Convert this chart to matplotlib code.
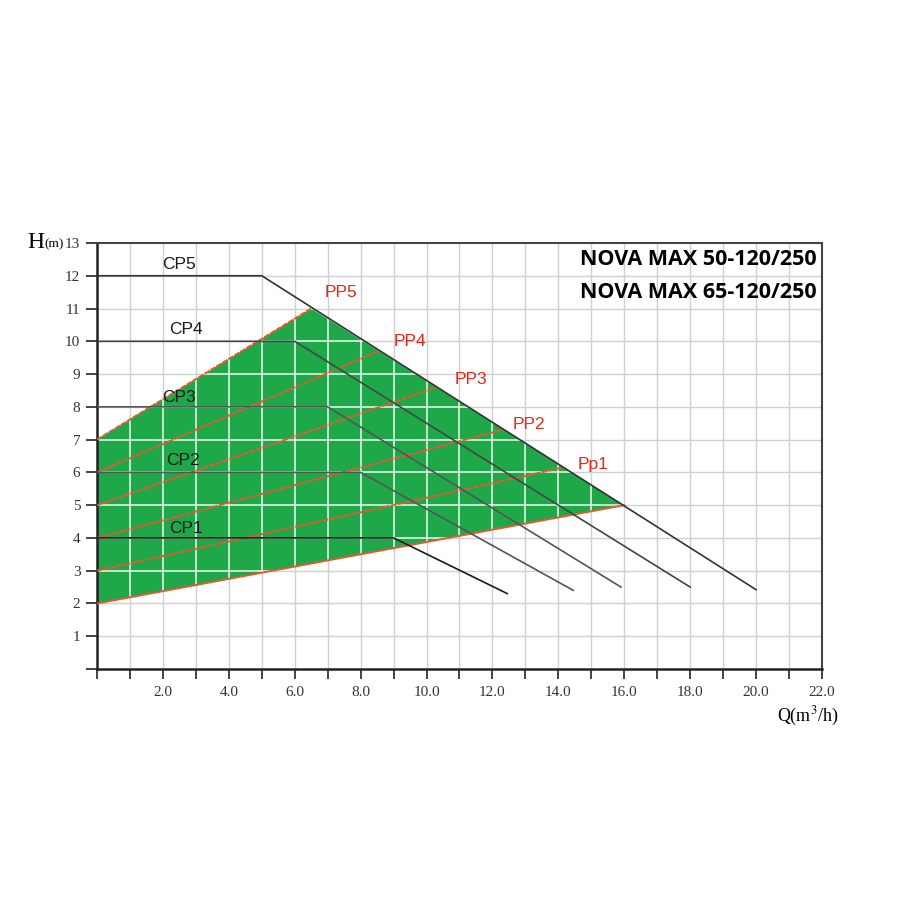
import matplotlib
matplotlib.use("Agg")
import matplotlib.pyplot as plt
from matplotlib.patches import Polygon

# ---- data ----
cp_names = ['CP1', 'CP2', 'CP3', 'CP4', 'CP5']
cp_head = [4, 6, 8, 10, 12]
cp_knee_q = [9, 8, 7, 6, 5]
cp_end_q = [12.45, 14.45, 15.9, 18.0, 20.0]
cp_end_h = [2.3, 2.4, 2.5, 2.5, 2.42]
cp_label_q = [2.7, 2.6, 2.5, 2.7, 2.5]
cp_label_h = [4.3, 6.35, 8.27, 10.37, 12.35]

pp_names = ['Pp1', 'PP2', 'PP3', 'PP4', 'PP5']
pp_start_h = [3, 4, 5, 6, 7]
pp_end_q = [14.15, 12.3, 10.3, 8.55, 6.5]
pp_end_h = [6.15, 7.3, 8.6, 9.7, 11.0]
pp_label_q = [15.05, 13.1, 11.35, 9.5, 7.4]
pp_label_h = [6.23, 7.45, 8.82, 9.98, 11.5]

min_q = [0, 16]
min_h = [2, 5]
region_q = [0, 16, 6.5, 0]
region_h = [2, 5, 11, 7]

x_ticks = [2, 4, 6, 8, 10, 12, 14, 16, 18, 20, 22]
x_ticklabels = ['2.0', '4.0', '6.0', '8.0', '10.0', '12.0', '14.0', '16.0', '18.0', '20.0', '22.0']
y_ticks = list(range(1, 14))
titles = ['NOVA MAX 50-120/250', 'NOVA MAX 65-120/250']

# ---- figure ----
fig = plt.figure(figsize=(9, 9), dpi=100)
ax = fig.add_axes([0.1078, 0.2567, 0.8055, 0.4733])
ax.set_xlim(0, 22)
ax.set_ylim(0, 13)

grid_col = '#d0d0d0'
for v in range(1, 22):
    ax.axvline(v, color=grid_col, lw=1.0, zorder=0)
for v in range(1, 13):
    ax.axhline(v, color=grid_col, lw=1.0, zorder=0)

green = '#1ea84a'
poly = Polygon(list(zip(region_q, region_h)), closed=True, facecolor=green,
               edgecolor='none', zorder=1)
ax.add_patch(poly)
for v in range(1, 22):
    ln = ax.axvline(v, color='white', lw=1.2, zorder=2, alpha=0.85)
    ln.set_clip_path(poly)
for v in range(1, 13):
    ln = ax.axhline(v, color='white', lw=1.2, zorder=2, alpha=0.85)
    ln.set_clip_path(poly)

red = '#e35a32'
# PP lines
for h0, q1, h1 in zip(pp_start_h, pp_end_q, pp_end_h):
    ax.plot([0, q1], [h0, h1], color=red, lw=1.4, zorder=3,
            linestyle=(0, (3, 0.6)))
ax.plot(min_q, min_h, color=red, lw=1.4, zorder=3)

# CP lines
cp_cols = ['#1a1a1a', '#555555', '#555555', '#444444', '#333333']
for h, kq, eq, eh, c in zip(cp_head, cp_knee_q, cp_end_q, cp_end_h, cp_cols):
    ax.plot([0, kq, eq], [h, h, eh], color=c, lw=1.2, zorder=4)

for n, q, h in zip(cp_names, cp_label_q, cp_label_h):
    ax.text(q, h, n, fontsize=12.5, family='Liberation Sans', color='#1a1a1a',
            ha='center', va='center', zorder=5)
for n, q, h in zip(pp_names, pp_label_q, pp_label_h):
    ax.text(q, h, n, fontsize=12.5, family='Liberation Sans', color='#e02a1a',
            ha='center', va='center', zorder=5)

ax.text(21.85, 12.5, titles[0], fontsize=15.5, fontweight='bold', family='Open Sans',
        ha='right', va='center', zorder=6, color='black')
ax.text(21.85, 11.5, titles[1], fontsize=15.5, fontweight='bold', family='Open Sans',
        ha='right', va='center', zorder=6, color='black')

# axes styling
for s in ['left', 'bottom']:
    ax.spines[s].set_linewidth(1.8)
    ax.spines[s].set_color('#222222')
for s in ['top', 'right']:
    ax.spines[s].set_linewidth(1.5)
    ax.spines[s].set_color('#444444')

ax.set_xticks(range(0, 23))
ax.set_xticklabels(['' if v not in x_ticks else x_ticklabels[x_ticks.index(v)]
                    for v in range(0, 23)])
ax.set_yticks(range(0, 14))
ax.set_yticklabels([''] + [str(v) for v in y_ticks])
ax.tick_params(axis='x', direction='out', length=7, width=1.2, color='#222222',
               labelsize=11, pad=5)
ax.tick_params(axis='y', direction='out', length=8, width=1.2, color='#222222',
               labelsize=11, pad=4)
for lab in ax.get_xticklabels() + ax.get_yticklabels():
    lab.set_family('Liberation Serif')
    lab.set_color('#333333')

fig.text(0.030, 0.731, 'H', fontsize=17, family='Liberation Serif', ha='left', va='center')
fig.text(0.049, 0.729, '(m)', fontsize=9.5, family='Liberation Serif', ha='left', va='center')
plt.rcParams['mathtext.fontset'] = 'stix'
fig.text(0.932, 0.204, r'Q(m$^3$/h)', fontsize=13, family='Liberation Serif',
         ha='right', va='center')

fig.savefig('out.png', dpi=100, facecolor='white')
